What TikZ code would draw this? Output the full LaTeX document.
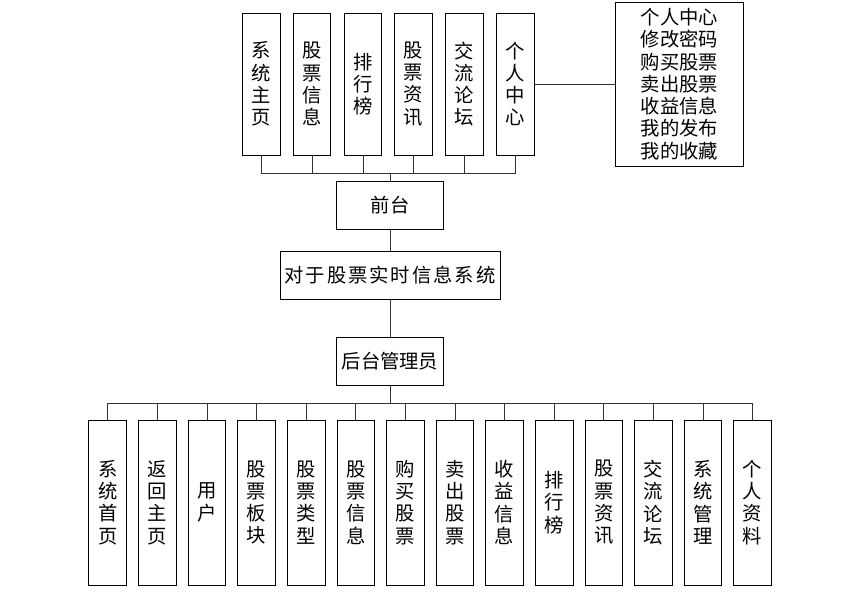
\documentclass[tikz,border=0pt]{standalone}
\usepackage{fontspec}
\usepackage{tikz}
\newfontfamily\cjk{Noto Sans CJK SC}
\newfontfamily\cjkwide[LetterSpace=10]{Noto Sans CJK SC}
\usetikzlibrary{positioning}

\begin{document}
\begin{tikzpicture}[
    x=0.03cm, y=-0.03cm,
    topbox/.style={draw, line width=0.8pt, minimum width=1.125cm, minimum height=4.26cm,
                inner sep=0pt, align=center, font=\cjk\fontsize{16.5pt}{19pt}\selectfont},
    botbox/.style={topbox, minimum width=1.13cm, minimum height=4.95cm},
    midbox/.style={draw, line width=0.8pt, minimum width=3.21cm, minimum height=1.44cm,
                inner sep=0pt, font=\cjk\fontsize{16.5pt}{19pt}\selectfont},
    link/.style={draw=black!80, line width=0.8pt}
]
    \useasboundingbox (0,0) rectangle (859,594);

    % front end modules
    \node[topbox] (t1) at (261.5,84) {系\\统\\主\\页};
    \node[topbox] (t2) at (312,84) {股\\票\\信\\息};
    \node[topbox] (t3) at (363,84) {排\\行\\榜};
    \node[topbox] (t4) at (413.5,84) {股\\票\\资\\讯};
    \node[topbox] (t5) at (464.5,84) {交\\流\\论\\坛};
    \node[topbox] (t6) at (515.5,84) {个\\人\\中\\心};
    \node[topbox, minimum width=3.825cm, minimum height=4.92cm] (info) at (679.5,84)
        {个人中心\\修改密码\\购买股票\\卖出股票\\收益信息\\我的发布\\我的收藏};

    % centre column
    \node[midbox] (front) at (390,205.5) {前台};
    \node[midbox, minimum width=6.6cm, minimum height=1.425cm,
          font=\cjkwide\fontsize{16.5pt}{19pt}\selectfont] (sys) at (390,275.3) {对于股票实时信息系统};
    \node[midbox] (back) at (390,361) {后台管理员};

    % admin modules
    \node[botbox] (b1) at (107.8,502.5) {系\\统\\首\\页};
    \node[botbox] (b2) at (157.4,502.5) {返\\回\\主\\页};
    \node[botbox] (b3) at (207,502.5) {用\\户};
    \node[botbox] (b4) at (256.6,502.5) {股\\票\\板\\块};
    \node[botbox] (b5) at (306.2,502.5) {股\\票\\类\\型};
    \node[botbox] (b6) at (355.8,502.5) {股\\票\\信\\息};
    \node[botbox] (b7) at (405.4,502.5) {购\\买\\股\\票};
    \node[botbox] (b8) at (455,502.5) {卖\\出\\股\\票};
    \node[botbox] (b9) at (504.6,502.5) {收\\益\\信\\息};
    \node[botbox] (b10) at (554.2,502.5) {排\\行\\榜};
    \node[botbox] (b11) at (603.8,502.5) {股\\票\\资\\讯};
    \node[botbox] (b12) at (653.4,502.5) {交\\流\\论\\坛};
    \node[botbox] (b13) at (703,502.5) {系\\统\\管\\理};
    \node[botbox] (b14) at (752.6,502.5) {个\\人\\资\\料};

    % connectors
    \coordinate (topbus) at (390,173);
    \coordinate (botbus) at (390,403);
    \draw[link] (front.north) -- (topbus);
    \foreach \i in {1,...,6}
        \draw[link] (t\i.south) |- (topbus);
    \draw[link] (t6.east) -- (info.west);
    \draw[link] (front.south) -- (sys.north);
    \draw[link] (sys.south) -- (back.north);
    \draw[link] (back.south) -- (botbus);
    \foreach \i in {1,...,14}
        \draw[link] (b\i.north) |- (botbus);
\end{tikzpicture}
\end{document}
